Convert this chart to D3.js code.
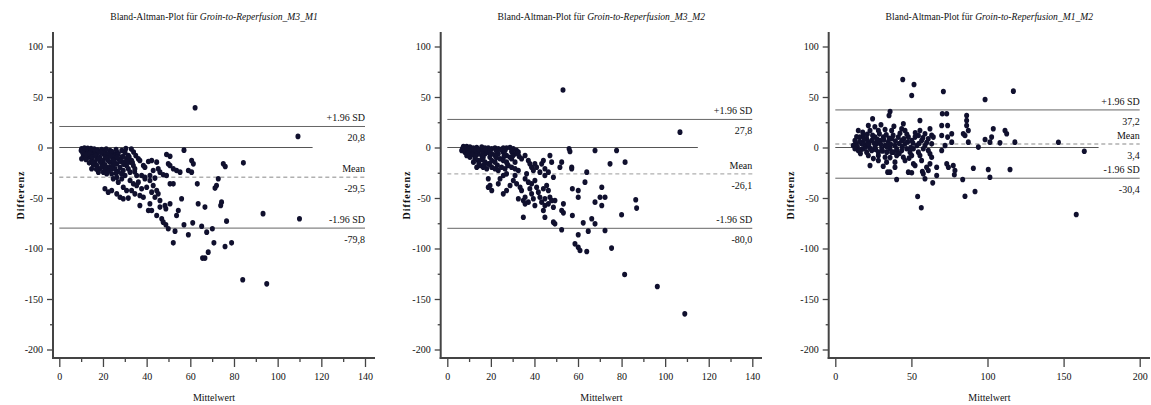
<!DOCTYPE html>
<html>
<head>
<meta charset="utf-8">
<script src="https://cdn.jsdelivr.net/npm/d3@7"></script>
<style>
  html, body { margin: 0; padding: 0; background: #fff; }
  svg { display: block; }
  text { font-family: "Liberation Serif", "DejaVu Serif", serif; fill: #111; }
</style>
</head>
<body>
<svg id="chart" width="1151" height="405"></svg>
<script>
// Tick values shared by the three plots
const yTicks = [100, 50, 0, -50, -100, -150, -200];
const yMinorTicks = [75, 25, -25, -75, -125, -175];
const xTicks140 = [0, 20, 40, 60, 80, 100, 120, 140];
const xMinor140 = [10, 30, 50, 70, 90, 110, 130];
const xTicks200 = [0, 50, 100, 150, 200];

const titles = ["Groin-to-Reperfusion_M3_M1", "Groin-to-Reperfusion_M3_M2", "Groin-to-Reperfusion_M1_M2"];
const limitNames = ["+1.96 SD", "Mean", "-1.96 SD"];

// Limits of agreement: [upper, mean, lower]
const limitsM3M1 = [20.8, -29.5, -79.8];
const limitsM3M2 = [27.8, -26.1, -80.0];
const limitsM1M2 = [37.2, 3.4, -30.4];

// [Mittelwert, Differenz] pairs
const pointsM3M1 = [
  [10.2,-1.3],[11.8,-3.0],[12.5,-1.3],[14.1,-3.0],[15.6,-4.6],[11.0,-7.9],[10.2,-11.2],[13.3,-9.6],
  [14.8,-12.9],[16.3,-14.5],[17.1,-17.8],[18.6,-21.1],[14.8,-21.1],[17.9,-24.4],[20.2,-24.4],[21.7,-19.5],
  [23.2,-14.5],[24.7,-11.2],[26.3,-16.2],[27.8,-19.5],[29.3,-22.8],[30.8,-17.8],[31.6,-21.1],[32.4,-14.5],
  [31.6,-7.9],[30.1,-4.6],[28.6,-3.0],[26.3,-4.6],[24.7,-6.3],[23.2,-3.0],[21.7,-7.9],[20.2,-6.3],
  [18.6,-9.6],[17.1,-6.3],[20.2,-12.9],[22.4,-12.9],[27.0,-11.2],[28.6,-9.6],[30.8,-11.2],[33.1,-12.9],
  [33.9,-17.8],[32.4,-24.4],[34.6,-21.1],[35.4,-27.7],
  [11.0,-2.0],[13.3,-4.6],[14.8,-7.2],[16.3,-3.0],[17.9,-4.0],[19.4,-2.0],[20.9,-4.6],[22.4,-6.3],
  [24.0,-4.0],[25.5,-8.6],[27.0,-6.3],[29.3,-8.6],[10.7,-5.3],[12.2,-11.9],[13.7,-15.2],[15.6,-17.1],
  [17.1,-11.2],[19.4,-16.2],[20.9,-17.1],[23.2,-19.5],[24.7,-17.1],[25.5,-21.1],[27.0,-23.7],[21.7,-26.0],
  [29.3,-14.5],[18.6,-13.8],[10.0,-3.0],
  [11.5,-0.5],[13.0,-0.8],[14.5,-1.0],[16.0,-1.5],[17.5,-2.5],[19.0,-5.0],[21.0,-9.5],[22.0,-10.5],
  [23.5,-8.5],[25.0,-13.0],[26.5,-9.5],[28.0,-13.5],[29.5,-16.5],[31.0,-14.0],[32.0,-9.5],[33.5,-15.0],
  [34.5,-24.0],[12.5,-7.0],[13.8,-6.0],[15.0,-9.5],[16.5,-8.0],[18.0,-11.0],[19.5,-19.0],[21.0,-22.0],
  [22.5,-23.5],[24.0,-21.0],[26.0,-25.5],[28.5,-26.0],[15.5,-15.0],[17.0,-21.5],[35.0,-8.0],[34.0,-4.5],
  [33.0,-1.5],[30.5,-1.0],[26.0,-2.0],[21.5,-1.5],
  [20.9,-40.9],[22.4,-44.2],[24.0,-42.6],[26.3,-45.9],[27.8,-49.2],[29.3,-50.8],[31.6,-50.1],[30.8,-42.6],
  [29.3,-39.3],[27.0,-34.3],[28.6,-31.0],[30.1,-27.7],[32.4,-32.6],[33.9,-36.0],[35.4,-37.6],[33.1,-42.6],
  [34.6,-45.9],[36.9,-47.5],[38.5,-49.2],[37.7,-40.9],[40.0,-39.3],[36.2,-34.3],[39.2,-31.0],[41.5,-32.6],
  [43.0,-37.6],[42.3,-44.2],[44.6,-42.6],[43.8,-49.2],[46.1,-52.5],[45.3,-45.9],[26.3,-29.4],[24.7,-31.0],
  [24.0,-26.0],[37.7,-27.7],[39.2,-29.4],[36.9,-57.4],[40.8,-62.4],[41.5,-55.7],
  [36.2,-11.2],[36.9,-12.9],[38.5,-17.8],[39.2,-19.5],[40.8,-13.8],[42.3,-12.9],[44.6,-14.5],[45.3,-21.1],
  [46.1,-24.4],[47.6,-27.0],[43.0,-22.8],[41.5,-27.7],[43.8,-30.3],[49.1,-27.7],[49.1,-6.9],[50.7,-8.6],
  [49.9,-16.2],[50.7,-17.8],[52.2,-21.1],[53.7,-22.8],[55.3,-24.4],[57.1,-2.6],[60.6,-12.9],[61.4,-16.2],
  [59.1,-22.8],[60.6,-24.4],[50.7,-36.0],[52.2,-36.0],[63.2,-36.0],[72.8,-31.0],[72.0,-37.6],[71.3,-40.2],
  [75.1,-16.2],[76.0,-18.8],[84.3,-15.2],[74.3,-54.1],[73.9,-57.4],[63.6,-55.7],[66.7,-59.0],[56.0,-50.8],
  [50.7,-55.7],[48.4,-57.4],[48.8,-60.7],[46.1,-59.0],[44.6,-67.3],[42.3,-62.4],[54.5,-62.4],[53.7,-67.3],
  [46.9,-70.6],[47.6,-73.9],[48.8,-76.5],[49.9,-80.5],[53.0,-82.8],[57.1,-76.5],[61.1,-74.6],[65.2,-77.9],
  [67.5,-83.8],[70.1,-80.5],[59.1,-86.4],[76.6,-72.9],[52.2,-94.4],[70.8,-94.4],[75.9,-98.0],[78.9,-94.4],
  [68.2,-103.6],[66.7,-109.5],[65.6,-109.5],
  [62.2,39.3],[109.3,11.0],[110.0,-70.5],[93.3,-65.5],[84.0,-131.0],[95.0,-135.0]
];

const pointsM3M2 = [
  [7.4,1.0],[8.9,1.0],[10.4,0.5],[11.9,-0.5],[13.5,0.0],[15.8,0.5],[17.3,-0.5],[18.8,-0.6],
  [20.4,-1.3],[21.9,-0.6],[23.4,-1.3],[25.7,-0.6],[27.2,-0.6],[28.8,0.0],[30.3,-1.3],[31.8,-3.0],
  [6.6,-3.0],[8.1,-4.6],[9.7,-3.0],[11.2,-4.6],[12.7,-4.0],[14.2,-6.3],[15.8,-7.9],[17.3,-6.3],
  [18.8,-4.6],[20.4,-6.3],[21.9,-7.9],[23.4,-6.3],[25.7,-4.6],[27.2,-7.9],[28.8,-9.6],[31.1,-6.3],[32.6,-4.6],
  [8.9,-7.9],[10.4,-9.6],[12.7,-11.2],[14.2,-12.9],[15.8,-11.9],[17.3,-14.5],[18.8,-16.2],[20.4,-12.9],
  [21.9,-14.5],[24.2,-11.2],[25.7,-12.9],[27.2,-14.5],[29.5,-11.2],[31.1,-14.5],
  [13.5,-19.5],[15.0,-17.8],[16.5,-19.5],[18.1,-21.1],[20.4,-19.5],[21.9,-21.1],[23.4,-22.8],[24.9,-19.5],
  [26.5,-21.1],[28.0,-17.8],[29.5,-19.5],[31.1,-21.1],[32.6,-22.8],
  [7.0,-1.0],[8.0,-2.0],[9.0,-0.5],[10.0,-1.5],[11.0,-2.5],[12.0,-1.5],[13.0,-3.0],[14.5,-2.0],
  [16.0,-3.5],[17.5,-2.0],[19.5,-3.0],[22.5,-3.5],[24.5,-2.0],[26.5,-3.0],[29.5,-4.0],[9.5,-6.0],
  [11.5,-7.0],[13.0,-8.5],[16.5,-10.0],[19.5,-9.5],[22.5,-10.0],[26.0,-9.0],[30.0,-8.5],[14.5,-16.0],
  [17.0,-17.0],[19.5,-16.5],[23.0,-17.5],[27.5,-16.0],[12.0,-14.5],[33.0,-9.0],
  [18.8,-31.0],[19.6,-37.6],[20.4,-42.6],[18.8,-39.3],[23.4,-36.0],[24.2,-31.0],[25.7,-27.7],[27.2,-26.1],
  [25.7,-45.9],[27.2,-42.6],[28.8,-37.6],[30.3,-32.7],[31.1,-27.7],[31.8,-36.0],[33.4,-39.3],[34.1,-42.6],
  [32.6,-50.8],[34.9,-52.5],[35.7,-49.2],[35.7,-31.0],[36.4,-26.1],[37.2,-34.3],[37.9,-40.9],[38.7,-45.9],
  [39.5,-50.8],[40.2,-57.4],[37.2,-54.1],[35.7,-55.8],[38.7,-36.0],[40.2,-32.7],[41.0,-39.3],[41.8,-44.2],
  [42.5,-49.2],[43.3,-54.1],[44.8,-57.4],[46.4,-55.8],[44.8,-50.8],[44.1,-40.9],[45.6,-37.6],[46.4,-42.6],
  [47.1,-49.2],[47.9,-52.5],[48.7,-59.1],
  [34.1,-11.2],[35.7,-7.9],[37.2,-12.9],[37.9,-16.2],[38.7,-19.5],[39.5,-22.8],[40.2,-16.2],[41.0,-19.5],
  [42.5,-24.4],[43.3,-16.2],[44.1,-12.9],[44.8,-21.1],[46.4,-24.4],[44.8,-27.7],[47.9,-14.5],[47.1,-7.9],
  [48.7,-29.4],[49.4,-52.5],
  [34.9,-69.0],[44.8,-69.0],[44.1,-62.4],[48.7,-73.9],[49.4,-75.6],
  [52.5,-14.5],[51.7,-19.5],[57.1,-19.5],[57.1,-21.1],[55.9,-1.3],[56.3,-4.0],[67.8,-3.0],[77.7,-3.0],
  [74.7,-16.2],[81.6,-14.5],
  [64.0,-24.4],[63.2,-34.3],[70.9,-39.3],[70.1,-49.2],[72.4,-49.2],[67.8,-54.1],[70.9,-57.4],[60.1,-42.6],
  [57.4,-40.9],[60.1,-49.2],
  [53.3,-55.8],[53.3,-64.7],[52.5,-62.4],[57.4,-67.3],[62.4,-74.6],[66.3,-70.6],[67.8,-75.6],[64.7,-82.8],
  [72.4,-82.2],[80.0,-66.6],[86.5,-51.8],[86.9,-60.0],
  [52.5,-81.5],[60.1,-86.4],[58.6,-95.4],[60.1,-98.7],[60.9,-102.0],[64.0,-103.0],[75.4,-99.6],
  [53.1,57.0],[106.8,15.2],[81.4,-125.7],[96.4,-137.6],[109.0,-164.7]
];

const pointsM1M2 = [
  [44.3,67.3],[51.7,62.4],[50.2,51.5],[71.0,55.5],[98.4,47.5],[117.0,55.8],
  [36.0,35.7],[35.3,31.7],[70.3,33.4],[73.2,33.4],[86.3,31.7],[86.3,26.8],[55.6,26.8],[24.5,28.4],
  [69.9,21.8],[73.8,21.8],[69.9,11.9],[73.8,10.3],[76.5,13.6],[86.3,21.8],[87.4,16.9],[84.1,13.6],
  [85.2,11.9],[103.8,18.5],[102.7,10.3],[98.4,7.9],[108.2,4.6],[111.5,16.9],[112.6,13.6],[118.0,5.3],
  [94.0,0.4],[101.6,5.3],[76.5,5.3],[72.1,2.0],[87.4,5.3],[69.9,-3.0],
  [15.1,16.9],[21.7,21.8],[22.8,16.9],[28.3,16.9],[32.7,17.8],[37.0,16.9],[43.6,18.5],[44.7,23.5],
  [45.8,16.9],[55.6,16.9],[54.6,11.9],[58.9,13.6],[62.2,18.5],[63.3,12.2],[64.4,10.3],
  [12.9,6.9],[16.2,10.3],[18.4,11.9],[20.6,8.6],[17.3,3.6],[19.5,2.0],[21.7,5.3],[23.9,6.9],
  [26.1,10.3],[27.2,3.6],[29.4,6.9],[31.6,10.3],[32.7,2.0],[34.8,5.3],[37.0,8.6],[39.2,2.0],
  [41.4,10.3],[43.6,6.9],[45.8,3.6],[48.0,10.3],[50.2,6.9],[52.4,10.3],[53.5,2.0],[56.7,6.9],
  [58.9,2.0],[61.1,8.6],[63.3,3.6],
  [13.5,4.0],[14.5,1.0],[16.0,6.0],[17.0,-2.0],[18.5,5.0],[19.0,8.5],[20.0,0.5],[21.0,13.0],
  [22.0,3.0],[23.0,-1.0],[24.5,12.0],[25.5,4.5],[26.5,-2.0],[27.5,8.0],[29.0,13.5],[30.0,3.0],
  [31.0,-3.5],[32.0,7.5],[33.5,12.5],[34.0,0.5],[35.5,9.0],[36.5,3.0],[38.0,12.0],[39.5,6.5],
  [40.5,-3.0],[42.0,4.0],[42.5,14.0],[44.0,1.0],[45.0,8.5],[47.0,13.0],[47.5,5.5],[49.5,0.0],
  [51.0,4.5],[52.5,14.5],[55.0,4.0],[57.5,9.5],[60.0,5.0],[26.0,20.5],[30.0,22.5],[38.5,21.0],
  [18.0,15.0],[42.0,-6.0],[48.5,-10.5],[36.0,-10.0],[25.0,-11.0],[31.5,-18.5],[16.5,-6.0],[14.0,10.5],
  [11.8,2.0],[12.9,-1.3],[15.1,-3.0],[18.4,-1.3],[20.6,-4.6],[23.9,-3.0],[26.1,0.4],[28.3,-4.6],
  [30.5,-1.3],[33.8,-4.6],[35.9,-1.3],[38.1,-4.6],[40.3,-1.3],[43.6,-3.0],[46.9,-1.3],[49.1,-4.6],
  [51.3,-1.3],[54.6,-4.6],[57.8,-1.3],[61.1,-3.0],
  [21.7,-7.9],[28.3,-7.9],[32.7,-9.6],[37.0,-4.6],[40.3,-7.9],[44.7,-9.6],[50.2,-7.9],[55.6,-7.9],
  [62.2,-6.3],[63.3,-9.6],
  [28.3,-12.9],[33.7,-14.5],[39.2,-14.5],[45.8,-12.9],[51.3,-16.2],[56.7,-12.9],[62.2,-16.2],
  [22.8,-17.8],[39.2,-19.5],[52.4,-17.8],[60.0,-19.5],[66.6,-19.5],
  [34.4,-24.4],[35.9,-24.4],[48.0,-24.4],[50.2,-25.0],[57.2,-23.7],[57.8,-26.0],[61.1,-22.8],[66.6,-27.7],
  [73.2,-16.2],[74.3,-19.5],[77.5,-17.8],[78.6,-22.8],[78.2,-27.0],[90.7,-20.5],[100.5,-21.8],[101.6,-29.4],
  [114.8,-21.8],
  [40.3,-31.7],[58.9,-31.0],[64.0,-35.0],[83.7,-31.7],
  [54.1,-48.5],[85.2,-48.2],[91.8,-43.5],[56.5,-59.7],
  [158.3,-66.3],[146.6,5.2],[163.6,-3.7]
];

// Layout of the three plots (pixel frames)
const panels = [
  { title: titles[0], points: pointsM3M1, limits: limitsM3M1, xDomain: [0, 140], xTicks: xTicks140, xMinor: xMinor140,
    axisX: 53, x0: 59.3, x1: 365, axisEnd: 375, lineEnd: 140, zeroEnd: 116, yLabelX: 20 },
  { title: titles[1], points: pointsM3M2, limits: limitsM3M2, xDomain: [0, 140], xTicks: xTicks140, xMinor: xMinor140,
    axisX: 440.7, x0: 447.3, x1: 752.3, axisEnd: 762, lineEnd: 140, zeroEnd: 115, yLabelX: 406 },
  { title: titles[2], points: pointsM1M2, limits: limitsM1M2, xDomain: [0, 200], xTicks: xTicks200, xMinor: [],
    axisX: 828.7, x0: 835.3, x1: 1139.7, axisEnd: 1150, lineEnd: 200, zeroEnd: 173, yLabelX: 790 }
];

const axisTop = 32, axisBottom = 358;
const svg = d3.select("#chart");
// German decimal comma with a plain hyphen as minus sign
const deLocale = d3.formatLocale({ decimal: ",", thousands: ".", grouping: [3], currency: ["", " €"], minus: "-" });
const fmtComma = deLocale.format(".1f");
const fmtInt = d => String(d);

panels.forEach(p => {
  const g = svg.append("g");
  const x = d3.scaleLinear().domain(p.xDomain).range([p.x0, p.x1]);
  const y = d3.scaleLinear().domain([100, -200]).range([46.5, 349.5]);

  // title
  const t = g.append("text")
    .attr("x", (p.axisX + p.axisEnd) / 2).attr("y", 20)
    .attr("text-anchor", "middle").attr("font-size", 9.6);
  t.append("tspan").text("Bland-Altman-Plot für ");
  t.append("tspan").attr("font-style", "italic").text(p.title);

  // y axis
  const yAxis = g.append("g").attr("transform", `translate(${p.axisX},0)`)
    .call(d3.axisLeft(y).tickValues(yTicks).tickSize(6).tickPadding(4).tickFormat(fmtInt));
  const yMinor = g.append("g").attr("transform", `translate(${p.axisX},0)`)
    .call(d3.axisLeft(y).tickValues(yMinorTicks).tickSize(3).tickFormat(""));

  // x axis
  const xAxis = g.append("g").attr("transform", `translate(0,${axisBottom})`)
    .call(d3.axisBottom(x).tickValues(p.xTicks).tickSize(9).tickPadding(6).tickFormat(fmtInt));
  const xMinor = g.append("g").attr("transform", `translate(0,${axisBottom})`)
    .call(d3.axisBottom(x).tickValues(p.xMinor).tickSize(4).tickFormat(""));

  [yAxis, yMinor, xAxis, xMinor].forEach(a => {
    a.select(".domain").remove();
    a.selectAll(".tick line").attr("stroke", "#444").attr("stroke-width", 1.3);
    a.selectAll(".tick text").attr("font-family", "Liberation Serif").attr("font-size", 10).attr("fill", "#111");
  });

  g.append("line").attr("x1", p.axisX).attr("x2", p.axisX).attr("y1", axisTop).attr("y2", axisBottom + 1)
    .attr("stroke", "#444").attr("stroke-width", 2);
  g.append("line").attr("x1", p.axisX - 1).attr("x2", p.axisEnd).attr("y1", axisBottom).attr("y2", axisBottom)
    .attr("stroke", "#444").attr("stroke-width", 2);

  // axis titles
  g.append("text").attr("x", (p.axisX + p.axisEnd) / 2).attr("y", 401)
    .attr("text-anchor", "middle").attr("font-size", 10).text("Mittelwert");
  g.append("text").attr("transform", `translate(${p.yLabelX},${(axisTop + axisBottom) / 2}) rotate(-90)`)
    .attr("text-anchor", "middle").attr("font-size", 10).attr("font-weight", "bold")
    .attr("letter-spacing", 1).attr("dy", "0.35em").text("Differenz");

  // zero reference line
  g.append("line").attr("x1", x(0)).attr("x2", x(p.zeroEnd)).attr("y1", y(0)).attr("y2", y(0))
    .attr("stroke", "#555").attr("stroke-width", 1);

  // limits of agreement and mean
  p.limits.forEach((v, i) => {
    const isMean = i === 1;
    g.append("line").attr("x1", x(0)).attr("x2", x(p.lineEnd)).attr("y1", y(v)).attr("y2", y(v))
      .attr("stroke", isMean ? "#b0b0b0" : "#666").attr("stroke-width", isMean ? 1.4 : 1)
      .attr("stroke-dasharray", isMean ? "4,3" : null);
    g.append("text").attr("x", x(p.lineEnd)).attr("y", y(v) - 5)
      .attr("text-anchor", "end").attr("font-size", 10).text(limitNames[i]);
    g.append("text").attr("x", x(p.lineEnd)).attr("y", y(v) + 15)
      .attr("text-anchor", "end").attr("font-size", 10).text(fmtComma(v));
  });

  // measurements
  g.append("g").selectAll("ellipse").data(p.points).join("ellipse")
    .attr("cx", d => x(d[0])).attr("cy", d => y(d[1]))
    .attr("rx", 2.5).attr("ry", 2.8).attr("fill", "#10102e");
});
</script>
</body>
</html>
